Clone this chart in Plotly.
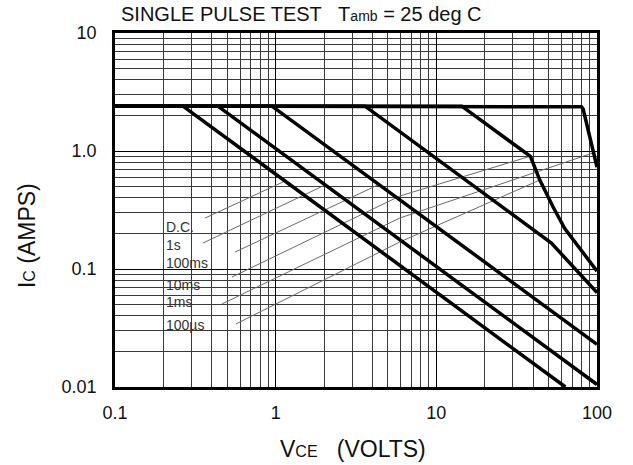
import plotly.graph_objects as go

# ---- data ----
curve_names = ["D.C.", "1s", "100ms", "10ms", "1ms", "100\u00b5s"]

x_dc = [0.1, 0.265, 63.6]
y_dc = [2.4, 2.4, 0.01]
x_1s = [0.1, 0.437, 100]
y_1s = [2.4, 2.4, 0.0105]
x_100ms = [0.1, 0.948, 100]
y_100ms = [2.4, 2.4, 0.023]
x_10ms = [0.1, 3.6, 52, 100]
y_10ms = [2.4, 2.4, 0.166, 0.063]
x_1ms = [0.1, 14.4, 38.5, 44, 53, 63, 100]
y_1ms = [2.4, 2.4, 0.9, 0.57, 0.34, 0.22, 0.096]
x_100us = [0.1, 77, 80, 82, 100]
y_100us = [2.4, 2.4, 2.37, 2.27, 0.73]

# leader lines from the labels to the curves
lead_dc_x = [0.363, 1.11]
lead_dc_y = [0.27, 0.546]
lead_1s_x = [0.353, 2.03]
lead_1s_y = [0.166, 0.515]
lead_100ms_x = [0.558, 4.33]
lead_100ms_y = [0.139, 0.515]
lead_10ms_x = [0.535, 5.93, 38.8]
lead_10ms_y = [0.0855, 0.4156, 0.907]
lead_1ms_x = [0.463, 5.93, 94.3]
lead_1ms_y = [0.0505, 0.2705, 0.962]
lead_100us_x = [0.566, 5.93, 44.1]
lead_100us_y = [0.0342, 0.1694, 0.5677]

x_tick_vals = [0.1, 1, 10, 100]
x_tick_text = ["0.1", "1", "10", "100"]
y_tick_vals = [0.01, 0.1, 1, 10]
y_tick_text = ["0.01", "0.1", "1.0", "10"]
x_minor_vals = [m * d for d in (0.1, 1, 10) for m in range(2, 10)]
y_minor_vals = [m * d for d in (0.01, 0.1, 1) for m in range(2, 10)]

FONT = "Liberation Sans, Arial, Helvetica, sans-serif"

fig = go.Figure()

curves = [(x_dc, y_dc), (x_1s, y_1s), (x_100ms, y_100ms),
          (x_10ms, y_10ms), (x_1ms, y_1ms), (x_100us, y_100us)]
leads = [(lead_dc_x, lead_dc_y), (lead_1s_x, lead_1s_y), (lead_100ms_x, lead_100ms_y),
         (lead_10ms_x, lead_10ms_y), (lead_1ms_x, lead_1ms_y), (lead_100us_x, lead_100us_y)]

for name, (lx, ly) in zip(curve_names, leads):
    fig.add_trace(go.Scatter(x=lx, y=ly, mode="lines", name=name + " label",
                             line=dict(color="#6a6a6a", width=1), hoverinfo="skip"))

for name, (cx, cy) in zip(curve_names, curves):
    fig.add_trace(go.Scatter(x=cx, y=cy, mode="lines", name=name,
                             line=dict(color="black", width=3.5)))

# white box behind the labels
fig.add_shape(type="rect", xref="paper", yref="paper",
              x0=0.104, x1=0.259, y0=0.161, y1=0.4915,
              fillcolor="white", line=dict(width=0), layer="between")

label_y = [0.453, 0.401, 0.350, 0.288, 0.240, 0.175]
for name, ly in zip(curve_names, label_y):
    fig.add_annotation(text=name, xref="paper", yref="paper", x=0.102, y=ly,
                       xanchor="left", yanchor="middle", showarrow=False,
                       font=dict(family=FONT, size=14, color="#333"))

fig.add_annotation(text="SINGLE PULSE TEST\u00a0\u00a0 T<span style='font-size:14px'>amb</span> = 25 deg C",
                   xref="paper", yref="paper", x=0.008, y=1.055,
                   xanchor="left", yanchor="middle", showarrow=False,
                   font=dict(family=FONT, size=20, color="#111"))

fig.add_annotation(text="I<span style='font-size:16px'>C</span> (AMPS)",
                   xref="paper", yref="paper", x=-0.182, y=0.427,
                   xanchor="center", yanchor="middle", textangle=-90, showarrow=False,
                   font=dict(family=FONT, size=23, color="#111"))

fig.add_annotation(text="V<span style='font-size:16px'>CE</span>\u00a0\u00a0 (VOLTS)",
                   xref="paper", yref="paper", x=0.494, y=-0.175,
                   xanchor="center", yanchor="middle", showarrow=False,
                   font=dict(family=FONT, size=23, color="#111"))

axis_common = dict(type="log", showgrid=True, gridcolor="black", gridwidth=1,
                   showline=True, linecolor="black", linewidth=2.5, mirror=True,
                   ticks="", zeroline=False,
                   tickfont=dict(family=FONT, size=18, color="#111"))

fig.update_xaxes(range=[-1, 2], tickmode="array", tickvals=x_tick_vals, ticktext=x_tick_text,
                 minor=dict(tickmode="array", tickvals=x_minor_vals, showgrid=True,
                            gridcolor="#3a3a3a", gridwidth=1, ticks=""),
                 ticklabelstandoff=8, **axis_common)
fig.update_yaxes(range=[-2, 1], tickmode="array", tickvals=y_tick_vals, ticktext=y_tick_text,
                 minor=dict(tickmode="array", tickvals=y_minor_vals, showgrid=True,
                            gridcolor="#3a3a3a", gridwidth=1, ticks=""),
                 ticklabelstandoff=12, **axis_common)

fig.update_layout(width=633, height=465, showlegend=False,
                  margin=dict(l=115, r=36, t=33, b=78),
                  plot_bgcolor="white", paper_bgcolor="white")

# remove the browser's default 8px body margin so the figure fills the window exactly
fig.write_html("out.html", config={"displayModeBar": False},
               post_script="document.body.style.margin='0';document.body.style.overflow='hidden';")
